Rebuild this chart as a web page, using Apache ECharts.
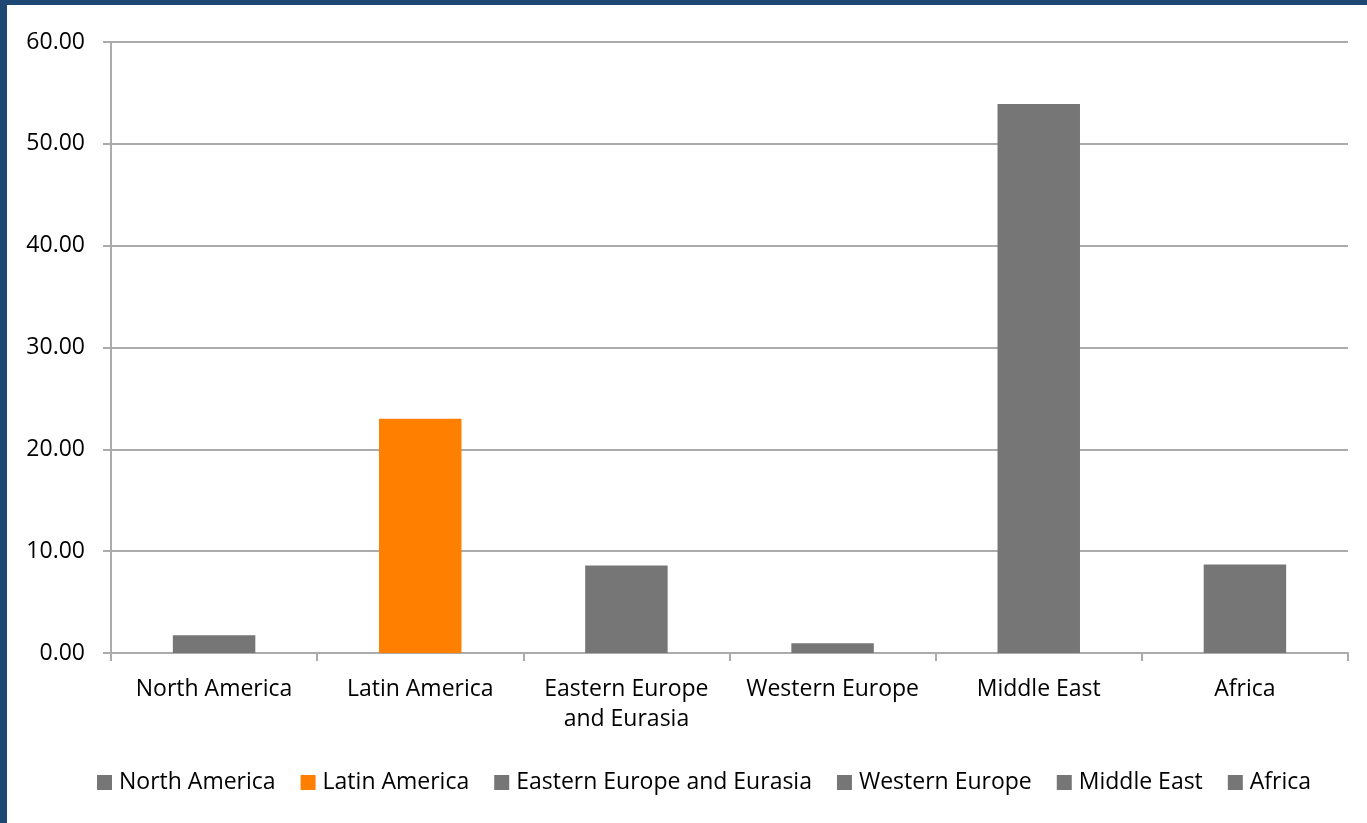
<!DOCTYPE html>
<html><head><meta charset="utf-8">
<script src="https://cdn.jsdelivr.net/npm/echarts@6/dist/echarts.min.js"></script>
<style>html,body{margin:0;padding:0;background:#fff}#c{width:1367px;height:823px}</style>
</head><body><div id="c"></div>
<script>
const categories = ['North America','Latin America','Eastern Europe and Eurasia','Western Europe','Middle East','Africa'];
const values = [1.75, 23.0, 8.6, 0.95, 53.9, 8.7];
const colors = ['#767676','#ff7f00','#767676','#767676','#767676','#767676'];
const yTicks = [0,10,20,30,40,50,60];

const series = categories.map((name, i) => ({
  name: name,
  type: 'bar',
  stack: 'all',
  barWidth: '40%',
  itemStyle: {color: colors[i]},
  data: categories.map((c, j) => j === i ? values[i] : '-')
}));

const chart = echarts.init(document.getElementById('c'));
const font = '"Open Sans", "Noto Sans", sans-serif';
chart.setOption({
  animation: false,
  textStyle: {fontFamily: font},
  graphic: [
    {type:'rect', shape:{x:0,y:0,width:1367,height:5}, style:{fill:'#1c4873'}, z:10},
    {type:'rect', shape:{x:0,y:0,width:7,height:823}, style:{fill:'#1c4873'}, z:10}
  ],
  grid: {left: 111, top: 42, right: 19, bottom: 170},
  legend: {
    left: 92, top: 766, itemWidth: 15, itemHeight: 15, itemGap: 25,
    icon: 'rect',
    textStyle: {fontSize: 23, color: '#000', fontFamily: font, padding: [0,0,0,2]},
    data: categories
  },
  xAxis: {
    type: 'category', data: categories,
    axisLine: {lineStyle: {color: '#ababab', width: 2}},
    axisTick: {show: true, length: 8, interval: 0, lineStyle: {color: '#ababab', width: 2}},
    axisLabel: {fontSize: 23, color: '#000', margin: 21, lineHeight: 30, interval: 0, fontFamily: font,
      formatter: v => v.replace(' and ', '\nand ')}
  },
  yAxis: {
    type: 'value', min: yTicks[0], max: yTicks[yTicks.length-1], interval: 10,
    axisLine: {show: true, lineStyle: {color: '#ababab', width: 2}},
    axisTick: {show: true, length: 8, lineStyle: {color: '#ababab', width: 2}},
    splitLine: {lineStyle: {color: '#ababab', width: 2}},
    axisLabel: {fontSize: 23, color: '#000', margin: 26, fontFamily: font,
      formatter: v => v.toFixed(2)}
  },
  series: series
});
</script></body></html>
